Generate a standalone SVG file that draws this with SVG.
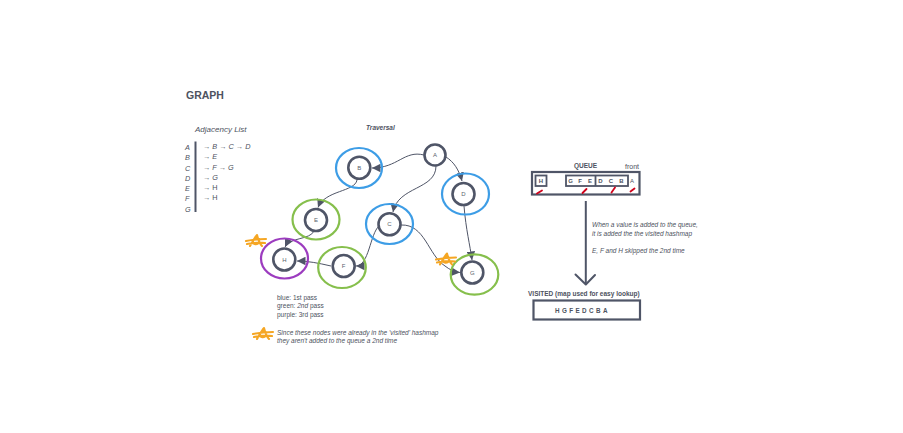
<svg xmlns="http://www.w3.org/2000/svg" width="903" height="433" viewBox="0 0 903 433">
<defs>
<style>
text{font-family:"Liberation Sans",Arial,sans-serif;fill:#4d5260}
.it{font-style:italic}
.inner{fill:#fff;stroke:#4f5567;stroke-width:2.6}
.blue{fill:none;stroke:#3d9de6;stroke-width:2.2}
.green{fill:none;stroke:#86bf4c;stroke-width:2.2}
.purple{fill:none;stroke:#9c3cbf;stroke-width:2.2}
.lbl{font-size:6px;text-anchor:middle;fill:#5a5f6c}
.edge{fill:none;stroke:#4f5567;stroke-width:1;marker-end:url(#ah)}
.scr{fill:none;stroke:#f5a623;stroke-width:2.1;stroke-linecap:round;stroke-linejoin:round}
.red{stroke:#d0021b;stroke-width:1.8;stroke-linecap:round}
.adj{font-size:7.3px}
.small{font-size:6.5px}
</style>
<marker id="ah" viewBox="0 0 8 8" refX="8" refY="4" markerWidth="8.5" markerHeight="8.5" markerUnits="userSpaceOnUse" orient="auto">
<path d="M0,0 L8,4 L0,8 z" fill="#4f5567"/>
</marker>
<symbol id="scribble" viewBox="0 0 22 13" overflow="visible">
<path d="M1,7 C6,6 13,5 21,5 M2,10 C8,9 13,8 20,9 M5,12 C8,7 10,3 12,1 C13,5 14,9 17,12 M8,7 C10,3 15,3 14,8 C13,11 7,11 8,7"/>
</symbol>
</defs>
<rect width="903" height="433" fill="#fff"/>

<text x="186" y="99" style="font-size:10.5px;font-weight:bold">GRAPH</text>

<g id="adjacency-list">
<text x="195" y="132" class="it" style="font-size:8px">Adjacency List</text>
<line x1="195.5" y1="141.5" x2="195.5" y2="212" stroke="#4f5567" stroke-width="2"/>
<text class="adj it" x="185" y="150">A</text>
<text class="adj it" x="185" y="160">B</text>
<text class="adj it" x="185" y="170.5">C</text>
<text class="adj it" x="185" y="181">D</text>
<text class="adj it" x="185" y="191">E</text>
<text class="adj it" x="185" y="201">F</text>
<text class="adj it" x="185" y="212">G</text>
<text class="adj it" x="203" y="149">→ B → C → D</text>
<text class="adj it" x="203" y="159">→ E</text>
<text class="adj it" x="203" y="169.5">→ F → G</text>
<text class="adj it" x="203" y="180">→ G</text>
<text class="adj" x="203" y="190">→ H</text>
<text class="adj" x="203" y="200">→ H</text>
</g>

<text x="366" y="130" class="it" style="font-size:6.5px;font-weight:bold">Traversal</text>

<g id="connectors">
<path class="edge" d="M424,155 C404,150 398,168 372,168"/>
<path class="edge" d="M446,157 C454,162 459,170 462,181"/>
<path class="edge" d="M436,166 C436,190 398,186 393,212"/>
<path class="edge" d="M357,180 C355,192 325,190 318,207.5"/>
<path class="edge" d="M314,231 C310,240 290,237 285,247"/>
<path class="edge" d="M379,226 C370,234 369,266 356,266"/>
<path class="edge" d="M401,225 C425,224 428,255 445,266 C450,270 455,272 460,272.5"/>
<path class="edge" d="M464,206 C466,230 470,245 472,260"/>
<path class="edge" d="M331,266 C318,263 308,261 297,261"/>
</g>

<g id="node-A">
<circle class="inner" cx="435" cy="155" r="10.5"/>
<text class="lbl" x="435" y="157">A</text>
</g>
<g id="node-B">
<ellipse class="blue" cx="359" cy="168" rx="23" ry="20"/>
<circle class="inner" cx="359.3" cy="167.7" r="11"/>
<text class="lbl" x="359.3" y="169.8">B</text>
</g>
<g id="node-D">
<ellipse class="blue" cx="465.5" cy="194" rx="23.5" ry="20.5"/>
<circle class="inner" cx="463.5" cy="194" r="11"/>
<text class="lbl" x="463.5" y="196">D</text>
</g>
<g id="node-E">
<ellipse class="green" cx="316" cy="219.5" rx="23.5" ry="20"/>
<circle class="inner" cx="316" cy="220" r="11"/>
<text class="lbl" x="316" y="222">E</text>
</g>
<g id="node-C">
<ellipse class="blue" cx="389.5" cy="224" rx="23.5" ry="20"/>
<circle class="inner" cx="389.5" cy="224.3" r="11"/>
<text class="lbl" x="389.5" y="226.3">C</text>
</g>
<g id="node-H">
<ellipse class="purple" cx="284.5" cy="258.5" rx="23.5" ry="20"/>
<circle class="inner" cx="284.3" cy="259.5" r="11"/>
<text class="lbl" x="284.3" y="261.5">H</text>
</g>
<g id="node-F">
<ellipse class="green" cx="342" cy="267.5" rx="23.8" ry="20.5"/>
<circle class="inner" cx="343.7" cy="266" r="11"/>
<text class="lbl" x="343.7" y="268">F</text>
</g>
<g id="node-G">
<ellipse class="green" cx="474.5" cy="274.5" rx="23.8" ry="20.2"/>
<circle class="inner" cx="472.3" cy="272.5" r="11"/>
<text class="lbl" x="472.3" y="274.5">G</text>
</g>

<g class="scr">
<use href="#scribble" x="245" y="234" width="22" height="13"/>
<use href="#scribble" x="435" y="252.5" width="22" height="13"/>
<use href="#scribble" x="252" y="327" width="22" height="13"/>
</g>

<g id="legend">
<text class="small" x="277" y="299.5">blue: 1st pass</text>
<text class="small" x="277" y="308">green: <tspan class="it">2nd</tspan> pass</text>
<text class="small" x="277" y="316.5">purple: 3rd pass</text>
<text class="small it" x="277" y="334.5">Since these nodes were already in the 'visited' hashmap</text>
<text class="small it" x="277" y="343">they aren't added to the queue a 2nd time</text>
</g>

<g id="queue">
<text x="574" y="167.5" style="font-size:6.5px;font-weight:bold">QUEUE</text>
<text x="625" y="169" style="font-size:7px">front</text>
<rect x="532" y="172" width="107.5" height="22.5" fill="none" stroke="#4f5567" stroke-width="2.2"/>
<rect x="535.5" y="175.5" width="11" height="10.5" fill="none" stroke="#4f5567" stroke-width="1.8"/>
<rect x="566" y="175.5" width="62" height="10.5" fill="none" stroke="#4f5567" stroke-width="1.8"/>
<line x1="595.5" y1="175.5" x2="595.5" y2="186" stroke="#4f5567" stroke-width="1.8"/>
<g style="font-size:6px;font-weight:bold;text-anchor:middle">
<text x="541" y="183.3">H</text>
<text x="570.5" y="183.3">G</text>
<text x="580" y="183.3">F</text>
<text x="590" y="183.3">E</text>
<text x="600.5" y="183.3">D</text>
<text x="611" y="183.3">C</text>
<text x="621.5" y="183.3">B</text>
<text x="632" y="183.3" style="font-weight:normal">A</text>
</g>
<line class="red" x1="537" y1="193.5" x2="542" y2="190.5"/>
<line class="red" x1="582.5" y1="193" x2="586.5" y2="189"/>
<line class="red" x1="611.5" y1="192.5" x2="615" y2="187.5"/>
<line class="red" x1="630.5" y1="191.5" x2="634.5" y2="188.5"/>
</g>

<g id="queue-arrow">
<line x1="585.8" y1="201" x2="585.8" y2="284" stroke="#4f5567" stroke-width="2"/>
<polyline points="575.5,274.5 585.8,284.5 595,275" fill="none" stroke="#4f5567" stroke-width="2" stroke-linecap="round" stroke-linejoin="round"/>
</g>

<g id="notes">
<text class="small it" x="592" y="227">When a value is added to the queue,</text>
<text class="small it" x="592" y="235.5">it is added the the visited hashmap</text>
<text class="small it" x="592" y="252.5">E, F and H skipped the 2nd time</text>
</g>

<g id="visited">
<text x="528" y="296" style="font-size:6.5px;font-weight:bold">VISITED (map used for easy lookup)</text>
<rect x="533.5" y="300.5" width="106.5" height="19" fill="none" stroke="#4f5567" stroke-width="2.2"/>
<text x="555" y="312.5" style="font-size:6.3px;font-weight:bold;letter-spacing:2.4px">HGFEDCBA</text>
</g>
</svg>
